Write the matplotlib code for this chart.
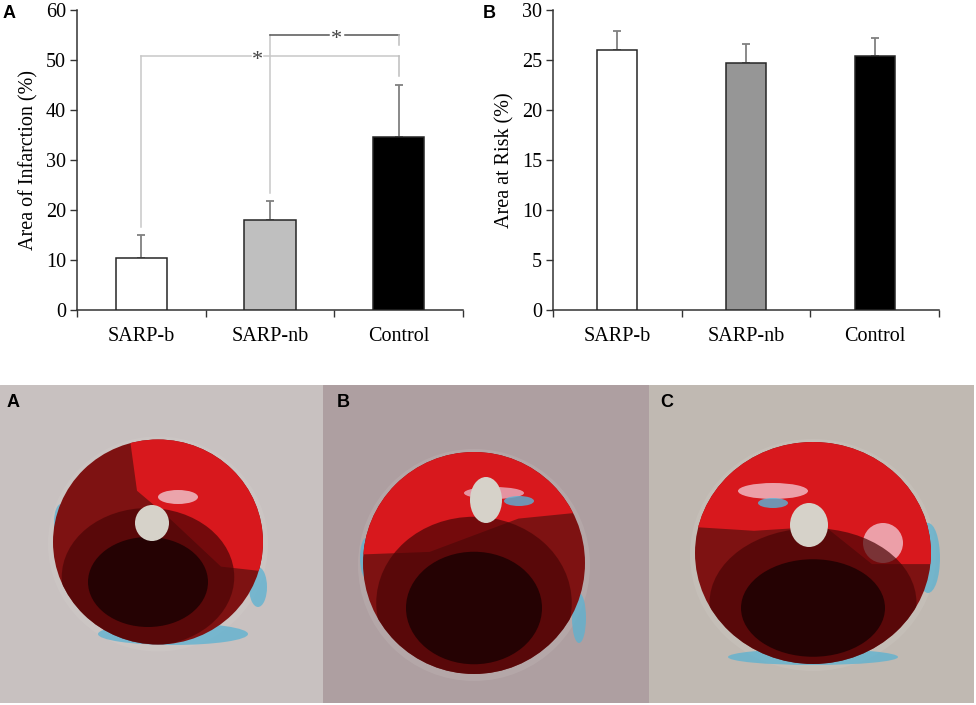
import numpy as np
import matplotlib.pyplot as plt
from matplotlib.patches import Ellipse, Rectangle, Polygon

plt.rcParams['font.family'] = ['Liberation Serif', 'DejaVu Serif']

groups = ['SARP-b', 'SARP-nb', 'Control']
infarct = [10.4, 18.0, 34.7]
infarct_err = [4.7, 3.9, 10.4]
risk = [26.0, 24.75, 25.4]
risk_err = [1.9, 1.85, 1.8]
colors_a = ['white', '#bfbfbf', 'black']
colors_b = ['white', '#969696', 'black']

W, H = 976, 705
fig = plt.figure(figsize=(W / 100, H / 100), dpi=100)


def px_axes(x0, y0, x1, y1):
    # axes from pixel box (top-left origin)
    return fig.add_axes([x0 / W, 1 - y1 / H, (x1 - x0) / W, (y1 - y0) / H])


def bar_panel(ax, vals, errs, colors, width, ymax, ystep, ylabel):
    x = np.arange(len(groups))
    ax.bar(x, vals, width=width, color=colors, edgecolor='#262626', linewidth=1.1, zorder=3)
    ax.errorbar(x, vals, yerr=[np.zeros(len(vals)), errs], fmt='none', ecolor='#808080',
                elinewidth=1.3, capsize=3, capthick=1.3, zorder=2)
    ax.set_xlim(-0.5, len(groups) - 0.5)
    ax.set_ylim(0, ymax)
    ax.set_yticks(np.arange(0, ymax + 0.1, ystep))
    ax.set_xticks(x)
    ax.set_xticklabels(groups, fontsize=14.5)
    ax.set_xticks(np.arange(-0.5, len(groups), 1.0), minor=True)
    ax.tick_params(axis='x', which='major', length=0, pad=12)
    ax.tick_params(axis='x', which='minor', length=5, width=1, direction='out', color='#333333')
    ax.tick_params(axis='y', length=5, width=1, direction='out', color='#333333', labelsize=14.5, pad=3)
    for s in ['top', 'right']:
        ax.spines[s].set_visible(False)
    for s in ['left', 'bottom']:
        ax.spines[s].set_color('#333333')
        ax.spines[s].set_linewidth(1.1)
    ax.set_ylabel(ylabel, fontsize=14.5, labelpad=5)


ax1 = px_axes(77, 10, 463, 310)
bar_panel(ax1, infarct, infarct_err, colors_a, 0.4, 60, 10, 'Area of Infarction (%)')

# significance brackets
tops = [v + e for v, e in zip(infarct, infarct_err)]
lo_y, hi_y = 50.9, 55.1
ax1.plot([0, 0], [tops[0] + 1.6, lo_y], color='#c8c8c8', lw=1.1, zorder=1)
ax1.plot([0, 0.85], [lo_y, lo_y], color='#c8c8c8', lw=1.1, zorder=1)
ax1.plot([0.95, 2], [lo_y, lo_y], color='#c8c8c8', lw=1.1, zorder=1)
ax1.plot([2, 2], [lo_y, tops[2] + 1.8], color='#bdbdbd', lw=1.1, zorder=1)
ax1.text(0.9, lo_y - 1.0, '*', ha='center', va='center', fontsize=16, color='#444444')
ax1.plot([1, 1], [tops[1] + 1.6, hi_y], color='#c8c8c8', lw=1.1, zorder=1)
ax1.plot([1, 1.46], [hi_y, hi_y], color='#555555', lw=1.1, zorder=1)
ax1.plot([1.58, 2], [hi_y, hi_y], color='#555555', lw=1.1, zorder=1)
ax1.plot([2, 2], [hi_y, 53.0], color='#bdbdbd', lw=1.1, zorder=1)
ax1.text(1.52, hi_y - 1.0, '*', ha='center', va='center', fontsize=16, color='#444444')

ax2 = px_axes(553, 10, 939, 310)
bar_panel(ax2, risk, risk_err, colors_b, 0.31, 30, 5, 'Area at Risk (%)')

lab = dict(fontsize=13, fontweight='bold', family=['Liberation Sans', 'DejaVu Sans'], va='center')
fig.text(3 / W, 1 - 13 / H, 'A', ha='left', **lab)
fig.text(483 / W, 1 - 13 / H, 'B', ha='left', **lab)


# photo panels: stylised heart slices
def slice_panel(x0, x1, bg, cx, cy, w, h, lumen, split, cyan, dark, streaks):
    ax = px_axes(x0, 385, x1, 703)
    pw, ph = x1 - x0, 318
    ax.set_xlim(0, pw)
    ax.set_ylim(ph, 0)
    ax.axis('off')
    ax.add_patch(Rectangle((0, 0), pw, ph, color=bg, zorder=0))
    # soft halo
    ax.add_patch(Ellipse((cx, cy + 2), w + 10, h + 10, color='#e6e3df', alpha=0.12, zorder=1, lw=0))
    for cxx, cyy, ww, hh in cyan:
        ax.add_patch(Ellipse((cx + cxx, cy + cyy), ww, hh, color='#5ab2d2', alpha=0.75, zorder=1, lw=0))
    outer = Ellipse((cx, cy), w, h, color='#7e1212', zorder=2, lw=0)
    ax.add_patch(outer)
    upper = Polygon(split(cx, cy, w, h), closed=True, color='#d8181d', zorder=3, lw=0)
    ax.add_patch(upper)
    upper.set_clip_path(outer)
    for sx, sy, sw, sh, col in streaks:
        st = Ellipse((cx + sx, cy + sy), sw, sh, color=col, alpha=0.8, zorder=3.5, lw=0)
        ax.add_patch(st)
        st.set_clip_path(outer)
    dx, dy, dw, dh = dark
    mid = Ellipse((cx + dx, cy + dy), dw * 1.15, dh * 1.15, color='#4a0506', alpha=0.7, zorder=4, lw=0)
    ax.add_patch(mid)
    mid.set_clip_path(outer)
    core = Ellipse((cx + dx, cy + dy + 5), dw * 0.8, dh * 0.75, color='#1c0102', alpha=0.85, zorder=4.5, lw=0)
    ax.add_patch(core)
    core.set_clip_path(outer)
    lx, ly, lw_, lh = lumen
    ax.add_patch(Ellipse((lx, ly), lw_, lh, color='#d6d2c9', zorder=5, lw=0))
    return ax


def split_a(cx, cy, w, h):
    return [(cx - 0.2 * w, cy - h), (cx + w, cy - h), (cx + w, cy + 0.2 * h),
            (cx + 0.3 * w, cy + 0.12 * h), (cx + 0.05 * w, cy - 0.12 * h), (cx - 0.1 * w, cy - 0.25 * h)]


def split_b(cx, cy, w, h):
    return [(cx - w, cy - h), (cx + w, cy - h), (cx + w, cy - 0.28 * h), (cx + 0.2 * w, cy - 0.2 * h),
            (cx - 0.2 * w, cy - 0.05 * h), (cx - w, cy - 0.02 * h)]


def split_c(cx, cy, w, h):
    return [(cx - w, cy - h), (cx + w, cy - h), (cx + w, cy + 0.05 * h), (cx + 0.25 * w, cy + 0.05 * h),
            (cx + 0.05 * w, cy - 0.12 * h), (cx - 0.25 * w, cy - 0.1 * h), (cx - w, cy - 0.15 * h)]


slice_panel(0, 323, '#c8c1c0', 158, 157, 210, 205, (152, 138, 34, 36), split_a,
            [(15, 92, 150, 22), (-97, -20, 14, 36), (100, 45, 18, 40)],
            (-10, 35, 150, 120),
            [(20, -45, 40, 14, '#f0c8d0')])
slice_panel(323, 649, '#ae9fa1', 151, 178, 222, 222, (163, 115, 32, 46), split_b,
            [(105, 55, 14, 50), (-108, -5, 12, 40)],
            (0, 40, 170, 150),
            [(20, -70, 60, 12, '#e9b3c3'), (45, -62, 30, 10, '#58b4d8')])
slice_panel(649, 974, '#c0b9b2', 164, 168, 236, 222, (160, 140, 38, 44), split_c,
            [(115, 5, 24, 70), (0, 104, 170, 16)],
            (0, 50, 180, 130),
            [(-40, -62, 70, 16, '#f2c2cc'), (-40, -50, 30, 10, '#58b4d8'), (70, -10, 40, 40, '#f2c2cc')])

fig.text(7 / W, 1 - 402 / H, 'A', ha='left', **lab)
fig.text(337 / W, 1 - 402 / H, 'B', ha='left', **lab)
fig.text(660 / W, 1 - 402 / H, 'C', ha='left', **lab)

fig.savefig('out.png', dpi=100)
